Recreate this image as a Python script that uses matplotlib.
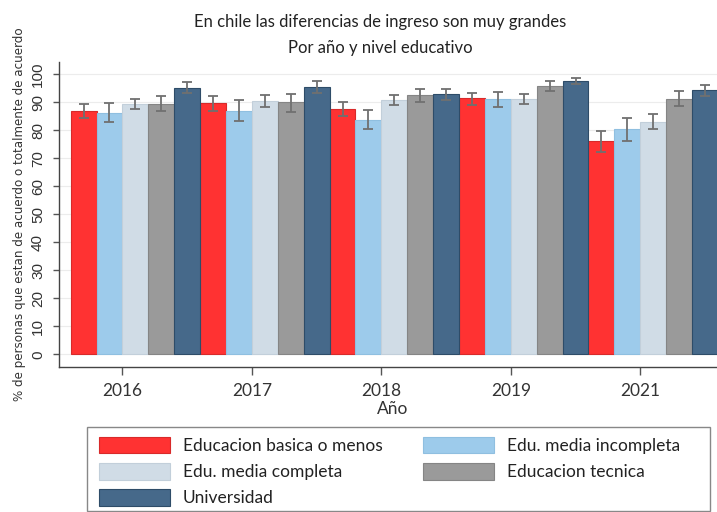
import matplotlib
matplotlib.use("Agg")
import matplotlib.pyplot as plt
from matplotlib.patches import Rectangle
import numpy as np

# data
years = ["2016", "2017", "2018", "2019", "2021"]
levels = ["Educacion basica o menos", "Edu. media incompleta",
          "Edu. media completa", "Educacion tecnica", "Universidad"]

basica = [86.9, 89.6, 87.7, 91.4, 76.3]
basica_lo = [84.3, 86.9, 85.0, 89.1, 72.3]
basica_hi = [89.5, 92.1, 90.2, 93.5, 79.8]

incompleta = [86.3, 86.8, 83.7, 91.1, 80.4]
incompleta_lo = [83.0, 83.3, 80.5, 88.5, 76.2]
incompleta_hi = [89.8, 90.7, 87.2, 93.8, 84.5]

completa = [89.3, 90.4, 90.7, 91.2, 83.0]
completa_lo = [87.7, 88.3, 89.1, 89.5, 80.3]
completa_hi = [91.3, 92.6, 92.6, 93.1, 85.7]

tecnica = [89.5, 90.1, 92.5, 95.8, 91.3]
tecnica_lo = [86.8, 86.6, 90.2, 93.9, 88.7]
tecnica_hi = [92.4, 93.1, 94.8, 97.5, 93.9]

universidad = [95.2, 95.6, 93.0, 97.6, 94.3]
universidad_lo = [93.3, 93.4, 91.0, 96.4, 92.2]
universidad_hi = [97.1, 97.6, 94.9, 98.8, 96.2]

series = [
    (basica, basica_lo, basica_hi, "#ff3232", "#d82a2a"),
    (incompleta, incompleta_lo, incompleta_hi, "#9dcbeb", "#8fbfe0"),
    (completa, completa_lo, completa_hi, "#d0dce6", "#c2cfda"),
    (tecnica, tecnica_lo, tecnica_hi, "#9a9a9a", "#858585"),
    (universidad, universidad_lo, universidad_hi, "#46698a", "#2e4c68"),
]

W, H = 717, 512
fig = plt.figure(figsize=(W / 100, H / 100), dpi=100)
ax = fig.add_axes([59 / W, 1 - 366.7 / H, (727 - 59) / W, (366.7 - 61.7) / H])

nlev = len(levels)
handles = []
for j, (vals, lo, hi, fc, ec) in enumerate(series):
    x = np.arange(len(years)) * nlev + j + 0.5
    vals = np.array(vals)
    err = [vals - np.array(lo), np.array(hi) - vals]
    b = ax.bar(x, vals, width=1.0, color=fc, edgecolor=ec, linewidth=0.8,
               label=levels[j], zorder=2)
    ax.errorbar(x, vals, yerr=err, fmt="none", ecolor="#707070",
                elinewidth=1.3, capsize=3.5, capthick=1.3, zorder=3)
    handles.append(b)

ax.set_xlim(-0.45, 25.35)
ax.set_ylim(-4.4, 104.5)
ax.set_xticks(np.arange(len(years)) * nlev + 2)
ax.set_xticklabels(years, fontfamily="Lato", fontsize=12.5, color="#333333")
ax.set_yticks(np.arange(0, 101, 10))
ax.set_yticklabels([str(v) for v in range(0, 101, 10)], rotation=90,
                   va="center", fontfamily="Liberation Sans", fontsize=11,
                   color="#333333")
ax.tick_params(axis="x", length=6, width=1, color="#555555", pad=6)
ax.tick_params(axis="y", length=4, width=1, color="#555555", pad=6)
ax.grid(axis="y", color="#ececec", linewidth=0.8, zorder=0)
ax.set_axisbelow(True)
for s in ["top", "right"]:
    ax.spines[s].set_visible(False)
for s in ["left", "bottom"]:
    ax.spines[s].set_color("#444444")
    ax.spines[s].set_linewidth(1.0)

ax.set_xlabel("Año", fontfamily="Lato", fontsize=12.5, color="#333333", labelpad=1)
ax.set_ylabel("% de personas que estan de acuerdo o totalmente de acuerdo",
              fontfamily="DejaVu Sans", fontsize=8.6, color="#333333", labelpad=4)

fig.text(0.53, 1 - 22 / H, "En chile las diferencias de ingreso son muy grandes",
         ha="center", va="center", fontfamily="Lato", fontsize=12, color="#222222")
fig.text(0.53, 1 - 47.5 / H, "Por año y nivel educativo",
         ha="center", va="center", fontfamily="Lato", fontsize=12, color="#222222")

# legend frame drawn by hand, entries in row order of the reference
fig.patches.append(Rectangle((87 / W, 1 - 511 / H), 623 / W, 84 / H,
                             transform=fig.transFigure, fill=False,
                             edgecolor="#888888", linewidth=1.0))
order = [0, 2, 4, 1, 3]
leg = fig.legend([handles[i] for i in order], [levels[i] for i in order],
                 ncol=2, loc="upper left",
                 bbox_to_anchor=(90 / W, 1 - 428 / H),
                 prop={"family": "Lato", "size": 12.5},
                 handlelength=4.1, handleheight=1.1, handletextpad=0.75,
                 labelspacing=0.52, borderpad=0.5, columnspacing=2.3,
                 frameon=False, borderaxespad=0)
for t in leg.get_texts():
    t.set_color("#222222")

fig.savefig("out.png", dpi=100)
